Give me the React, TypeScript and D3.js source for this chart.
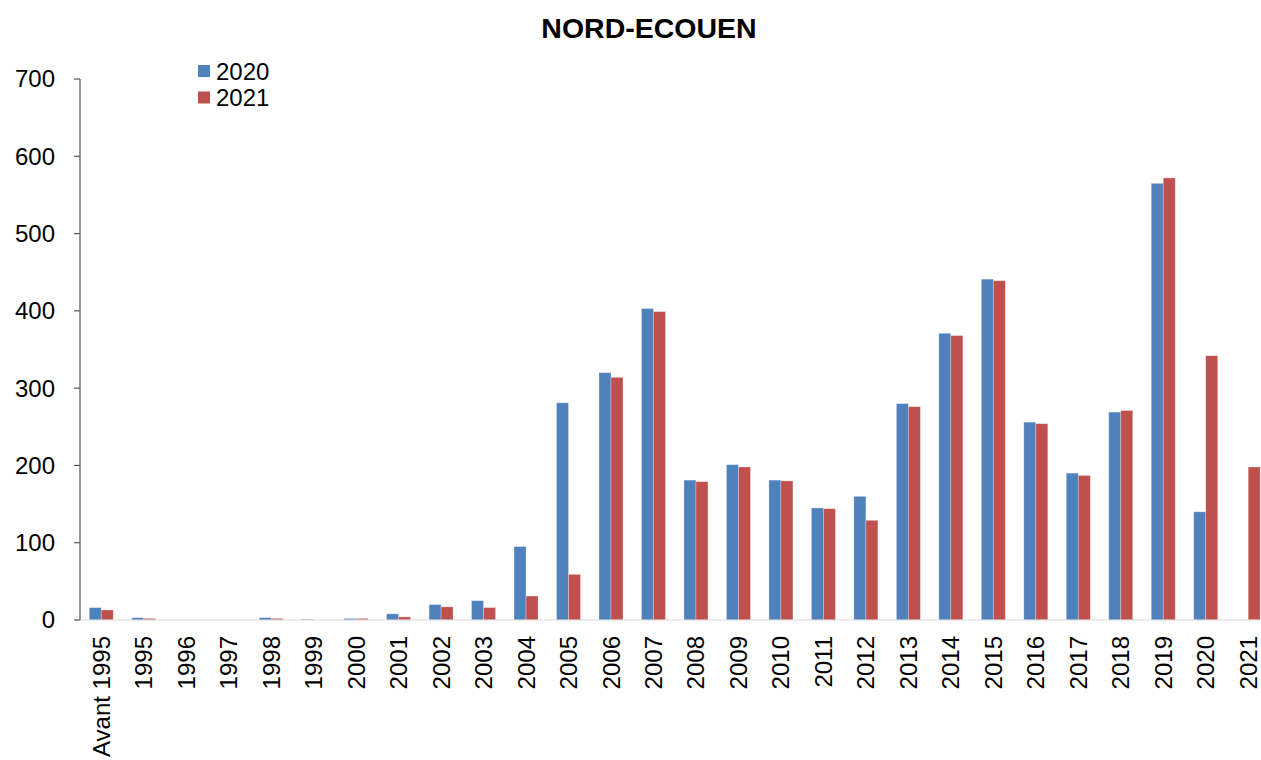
import React from "react";
import * as d3 from "d3";

const categories = ["Avant 1995","1995","1996","1997","1998","1999","2000","2001","2002","2003","2004","2005","2006","2007","2008","2009","2010","2011","2012","2013","2014","2015","2016","2017","2018","2019","2020","2021"];
const values2020 = [16,3,0,0,3,1,2,8,20,25,95,281,320,403,181,201,181,145,160,280,371,441,256,190,269,565,140,0];
const values2021 = [13,2,0,0,2,0,2,4,17,16,31,59,314,399,179,198,180,144,129,276,368,439,254,187,271,572,342,198];
const seriesNames = ["2020", "2021"];
const colors = ["#4F81BD", "#C0504D"];
const yTicks = [0,100,200,300,400,500,600,700];

export default function App() {
  const W = 1261, H = 760;
  const left = 80, top = 79, bottom = 620;
  const step = 42.48;
  const x = d3.scaleBand<string>().domain(categories).range([left, left + categories.length * step]).paddingInner(0.435).paddingOuter(0.2175);
  const xs = d3.scaleBand<string>().domain(seriesNames).range([0, x.bandwidth()]);
  const y = d3.scaleLinear().domain([0, 700]).range([bottom, top]);
  const font = "Arial, 'Liberation Sans', sans-serif";
  const series = [values2020, values2021];
  return (
    <svg width={W} height={H} style={{ position: "absolute", left: 0, top: 0, background: "#fff" }} fontFamily={font}>
      <text x={649} y={38} textAnchor="middle" fontSize={28.5} fontWeight="bold" fill="#000">NORD-ECOUEN</text>
      {series.map((vals, si) =>
        vals.map((v, i) => (
          v > 0 ? (
            <rect key={`${si}-${i}`} x={(x(categories[i]) as number) + (xs(seriesNames[si]) as number)} y={y(v)} width={xs.bandwidth()} height={bottom - y(v)} fill={colors[si]} stroke="rgba(255,255,255,0.35)" strokeWidth={0.8} />
          ) : null
        ))
      )}
      <line x1={left} x2={W} y1={bottom} y2={bottom} stroke="#d9d9d9" strokeWidth={1} />
      <line x1={left} x2={left} y1={top} y2={bottom} stroke="#555" strokeWidth={1.2} />
      {yTicks.map(t => (
        <g key={t}>
          <line x1={left - 6} x2={left} y1={y(t)} y2={y(t)} stroke="#555" strokeWidth={1.2} />
          <text x={55} y={y(t)} dy="0.35em" textAnchor="end" fontSize={24} fill="#000">{t}</text>
        </g>
      ))}
      {categories.map(c => {
        const cx = (x(c) as number) + x.bandwidth() / 2;
        return (
          <text key={c} transform={`translate(${cx + 8.5},${636}) rotate(-90)`} textAnchor="end" fontSize={24} fill="#000">{c}</text>
        );
      })}
      {seriesNames.map((s, i) => (
        <g key={s} transform={`translate(198,${65 + i * 26.5})`}>
          <rect x={0} y={0} width={12} height={12} fill={colors[i]} />
          <text x={18} y={6} dy="0.36em" fontSize={24} fill="#000">{s}</text>
        </g>
      ))}
    </svg>
  );
}
